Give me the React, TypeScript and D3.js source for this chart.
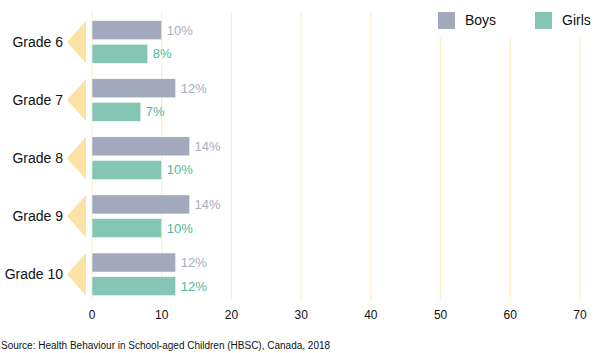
import { scaleLinear, scaleBand } from 'd3';

const grades = ['Grade 6', 'Grade 7', 'Grade 8', 'Grade 9', 'Grade 10'];
const boys = [10, 12, 14, 14, 12];
const girls = [8, 7, 10, 10, 12];
const seriesNames = ['Boys', 'Girls'];
const xTicks = [0, 10, 20, 30, 40, 50, 60, 70];
const source = 'Source: Health Behaviour in School-aged Children (HBSC), Canada, 2018';

const W = 600;
const H = 353;
const colors: Record<string, string> = { Boys: '#a3a9bc', Girls: '#84c5b3' };
const labelColors: Record<string, string> = { Boys: '#a7adc2', Girls: '#4fb99b' };
const font = '"Liberation Sans", Arial, sans-serif';

export default function App() {
    const x = scaleLinear().domain([0, 70]).range([92, 580]);
    const y = scaleBand().domain(grades).range([20.7, 295.6]).paddingInner(0.267).paddingOuter(0);
    const sub = scaleBand().domain(seriesNames).range([0, y.bandwidth()]).paddingInner(0.195);

    const rows = grades.map((g, i) => ({ g, vals: [boys[i], girls[i]] }));

    return (
        <svg
            width={W}
            height={H}
            style={{ position: 'absolute', left: 0, top: 0, display: 'block', fontFamily: font }}
        >
            <rect width={W} height={H} fill="#fff" />
            {/* gridlines */}
            {xTicks.map((t) => (
                <line key={t} x1={x(t)} x2={x(t)} y1={12} y2={300} stroke="#fdecbc" strokeWidth={1} />
            ))}
            {/* legend backdrop */}
            <rect x={400} y={0} width={200} height={37} fill="#fff" />
            {seriesNames.map((s, i) => (
                <g key={s} transform={`translate(${438 + i * 97},12)`}>
                    <rect width={17} height={17} fill={colors[s]} />
                    <text x={27} y={8.5} dy="0.35em" fontSize={14} fill="#111">
                        {s}
                    </text>
                </g>
            ))}
            {rows.map((r) => {
                const y0 = y(r.g) || 0;
                const bw = y.bandwidth();
                return (
                    <g key={r.g}>
                        <path
                            d={`M${x(0) - 25},${y0 + bw / 2}L${x(0) - 6},${y0}L${x(0) - 6},${y0 + bw}Z`}
                            fill="#fde3a3"
                        />
                        <text x={63} y={y0 + bw / 2} dy="0.35em" textAnchor="end" fontSize={14} fill="#111">
                            {r.g}
                        </text>
                        {seriesNames.map((s, j) => {
                            const v = r.vals[j];
                            const by = y0 + (sub(s) || 0);
                            return (
                                <g key={s}>
                                    <rect
                                        x={x(0)}
                                        y={by}
                                        width={x(v) - x(0)}
                                        height={sub.bandwidth()}
                                        fill={colors[s]}
                                        stroke="#fff"
                                        strokeWidth={0.5}
                                    />
                                    <text
                                        x={x(v) + 5}
                                        y={by + sub.bandwidth() / 2}
                                        dy="0.35em"
                                        fontSize={13}
                                        fill={labelColors[s]}
                                    >
                                        {v}%
                                    </text>
                                </g>
                            );
                        })}
                    </g>
                );
            })}
            {/* x axis labels */}
            {xTicks.map((t) => (
                <text key={t} x={x(t)} y={315} dy="0.35em" textAnchor="middle" fontSize={12} fill="#111">
                    {t}
                </text>
            ))}
            <text x={1} y={345} dy="0.35em" fontSize={10} fill="#111">
                {source}
            </text>
        </svg>
    );
}
